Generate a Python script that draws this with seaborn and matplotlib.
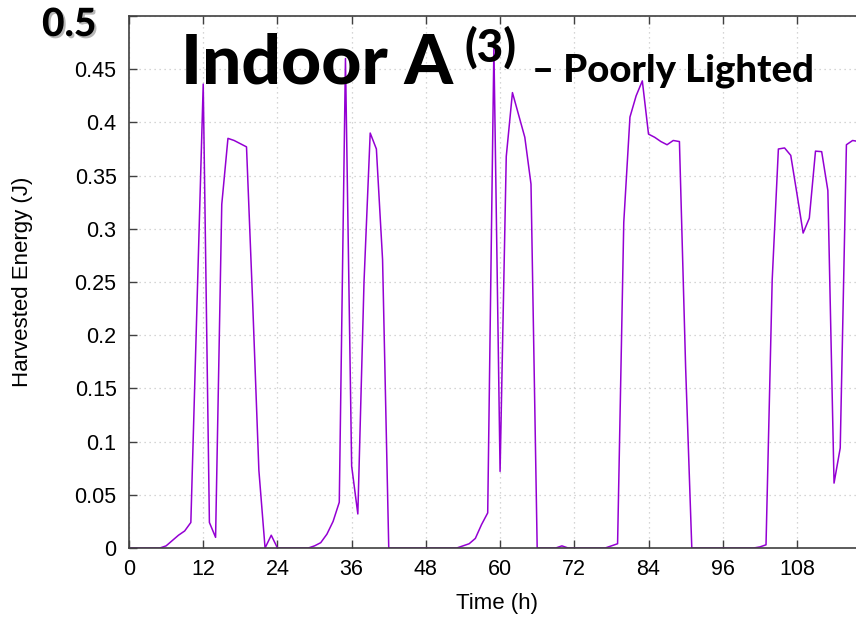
import matplotlib
matplotlib.use("Agg")
import matplotlib.pyplot as plt
import matplotlib.patheffects as pe
import pandas as pd
import seaborn as sns

# hourly harvested energy
hours = list(range(0, 119))
energy = [
    0, 0, 0, 0, 0, 0, 0.002, 0.007, 0.012, 0.016,            # 0-9
    0.024, 0.23, 0.436, 0.024, 0.010, 0.323, 0.385, 0.383, 0.380, 0.377,  # 10-19
    0.23, 0.073, 0, 0.012, 0, 0, 0, 0, 0, 0,                  # 20-29
    0.002, 0.005, 0.013, 0.025, 0.043, 0.46, 0.077, 0.032, 0.25, 0.39,    # 30-39
    0.375, 0.271, 0, 0, 0, 0, 0, 0, 0, 0,                     # 40-49
    0, 0, 0, 0, 0.002, 0.004, 0.009, 0.022, 0.033, 0.47,      # 50-59
    0.072, 0.368, 0.428, 0.407, 0.386, 0.342, 0, 0, 0, 0,     # 60-69
    0.002, 0, 0, 0, 0, 0, 0, 0, 0.002, 0.004,                 # 70-79
    0.306, 0.405, 0.425, 0.439, 0.389, 0.386, 0.382, 0.379, 0.383, 0.382,  # 80-89
    0.17, 0, 0, 0, 0, 0, 0, 0, 0, 0,                          # 90-99
    0, 0, 0.001, 0.003, 0.252, 0.375, 0.376, 0.369, 0.333, 0.296,  # 100-109
    0.310, 0.373, 0.3725, 0.336, 0.061, 0.094, 0.379, 0.383, 0.382,  # 110-118
]
x_ticks = [0, 12, 24, 36, 48, 60, 72, 84, 96, 108]
y_ticks = [0, 0.05, 0.1, 0.15, 0.2, 0.25, 0.3, 0.35, 0.4, 0.45, 0.5]
y_labels = ["0", "0.05", "0.1", "0.15", "0.2", "0.25", "0.3", "0.35", "0.4", "0.45", ""]

W, H = 856, 617


def px(x, y):
    return x / W, 1 - y / H


sns.set_theme(style="white")
plt.rcParams["font.family"] = ["Liberation Sans", "DejaVu Sans"]
plt.rcParams["text.color"] = "black"

df = pd.DataFrame({"Time (h)": hours, "Harvested Energy (J)": energy})

fig = plt.figure(figsize=(W / 100, H / 100), dpi=100)
ax = fig.add_axes([129 / W, 1 - 548 / H, 1 - 129 / W, (548 - 16) / H])

sns.lineplot(data=df, x="Time (h)", y="Harvested Energy (J)", ax=ax,
             color="#9400D3", linewidth=1.1)

ax.set_xlim(0, 117.55)
ax.set_ylim(0, 0.5)
ax.set_xticks(x_ticks)
ax.set_yticks(y_ticks)
ax.set_yticklabels(y_labels)
ax.grid(True, linestyle=(0, (1, 3)), color="#c8c8c8", linewidth=0.9)
ax.tick_params(direction="in", length=6, width=1, color="#404040",
               labelsize=15.5, labelcolor="black", top=True, bottom=True, left=True)
ax.tick_params(axis="y", pad=9)
ax.tick_params(axis="x", pad=8)
for side in ["left", "bottom", "top"]:
    ax.spines[side].set_color("#404040")
    ax.spines[side].set_linewidth(1.2)
ax.spines["right"].set_visible(False)

ax.set_xlabel("")
ax.set_ylabel("")
fig.text(*px(497, 604), "Time (h)", fontsize=16, ha="center", va="center")
fig.text(*px(23, 282), "Harvested Energy (J)", fontsize=16, ha="center",
         va="center", rotation=90)

# overlaid title and the bold 0.5 tick label
title_font = ["Lato", "DejaVu Sans"]
fig.text(*px(181, 83), "Indoor A", fontsize=50, fontweight=900,
         family=title_font, va="baseline")
fig.text(*px(465, 62), "(3)", fontsize=33, fontweight=900,
         family=title_font, va="baseline")
fig.text(*px(532, 82), "\u2013 Poorly Lighted", fontsize=27.5, fontweight=900,
         family=title_font, va="baseline")
fig.text(*px(42, 36), "0.5", fontsize=28, fontweight=900,
         family=title_font, va="baseline",
         path_effects=[pe.SimplePatchShadow(offset=(1.5, -1.5), shadow_rgbFace="#888888", alpha=0.6),
                       pe.Normal()])

fig.savefig("out.png", dpi=100)
